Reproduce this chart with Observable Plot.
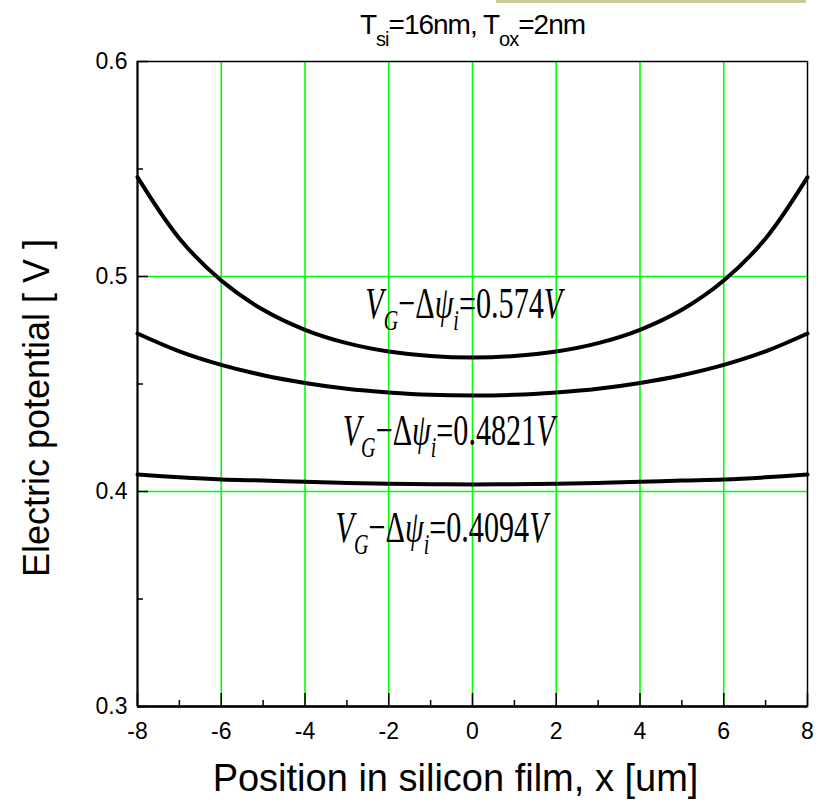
<!DOCTYPE html>
<html><head><meta charset="utf-8">
<script src="https://cdn.jsdelivr.net/npm/d3@7"></script>
<script src="https://cdn.jsdelivr.net/npm/@observablehq/plot@0.6"></script>
<style>
body{margin:0;background:#fff;}
#wrap{position:relative;width:825px;height:802px;}
#bar{position:absolute;left:496px;top:0;width:310px;height:3px;background:#cccc99;z-index:2;}
</style></head><body>
<div id="wrap"><div id="bar"></div><div id="chart"></div></div>
<script>
// ---- data ----
const positions = [-8,-7,-6,-5,-4,-3,-2,-1,0,1,2,3,4,5,6,7,8];
const curveTop    = [0.5462,0.5177,0.4981,0.4845,0.4752,0.4690,0.4651,0.4630,0.4623,0.4630,0.4651,0.4690,0.4752,0.4845,0.4981,0.5177,0.5462];
const curveMiddle = [0.4735,0.4652,0.4589,0.4541,0.4505,0.4478,0.4461,0.4450,0.4447,0.4450,0.4461,0.4478,0.4505,0.4541,0.4589,0.4652,0.4735];
const curveBottom = [0.4079,0.4066,0.4056,0.4051,0.4045,0.4040,0.4036,0.4034,0.4033,0.4034,0.4036,0.4040,0.4045,0.4051,0.4056,0.4066,0.4079];
const seriesNames = ["0.574", "0.4821", "0.4094"];
const labelX = [-2.56, -3.1, -3.27];
const labelY = [0.4805, 0.4214, 0.3763];
const xTickLabels = [-8,-6,-4,-2,0,2,4,6,8];
const xMinorTicks = [-7,-5,-3,-1,1,3,5,7];
const yTickLabels = [0.3,0.4,0.5,0.6];
const yMinorTicks = [0.35,0.45,0.55];
const xGrid = [-6,-4,-2,0,2,4,6];
const yGrid = [0.4,0.5];
const titleText = "Tsi=16nm, Tox=2nm";
const xLabel = "Position in silicon film, x [um]";
const yLabel = "Electric potential [ V ]";

const rows = [];
[curveTop, curveMiddle, curveBottom].forEach((arr, k) => {
  arr.forEach((v, i) => rows.push({x: positions[i], v, s: seriesNames[k]}));
});
const labels = seriesNames.map((n, i) => ({x: labelX[i], y: labelY[i], t: `VG−Δψi=${n}V`}));

const frameW = 825 - 137 - 18, frameH = 802 - 61 - 96;

const plot = Plot.plot({
  width: 825, height: 802,
  marginLeft: 137, marginRight: 18, marginTop: 61, marginBottom: 96,
  x: {domain: [-8, 8]},
  y: {domain: [0.3, 0.6]},
  style: {fontFamily: "'Liberation Sans', Arial, sans-serif", background: "white", color: "black", overflow: "visible"},
  marks: [
    Plot.ruleX(xGrid, {stroke: "#00ff00", strokeWidth: 1.6}),
    Plot.ruleY(yGrid, {stroke: "#00ff00", strokeWidth: 1.6}),
    Plot.frame({stroke: "black", strokeWidth: 1.5}),
    Plot.ruleY([0.3], {stroke: "black", strokeWidth: 2.5}),
    Plot.ruleX([-8], {stroke: "black", strokeWidth: 2}),
    Plot.tickX(xTickLabels, {x: d => d, insetTop: frameH - 13, stroke: "black", strokeWidth: 1.5}),
    Plot.tickX(xMinorTicks, {x: d => d, insetTop: frameH - 6, stroke: "black", strokeWidth: 1.5}),
    Plot.tickY(yTickLabels, {y: d => d, insetRight: frameW - 11, stroke: "black", strokeWidth: 1.5}),
    Plot.tickY(yMinorTicks, {y: d => d, insetRight: frameW - 6, stroke: "black", strokeWidth: 1.5}),
    Plot.axisX(xTickLabels, {tickSize: 0, tickPadding: 16, fontSize: 23, tickFormat: d => String(d), label: null}),
    Plot.axisY(yTickLabels, {tickSize: 0, tickPadding: 10, fontSize: 23, tickFormat: d => String(d), label: null}),
    Plot.line(rows, {x: "x", y: "v", z: "s", stroke: "black", strokeWidth: 4, curve: "catmull-rom"}),
    Plot.text(labels, {x: "x", y: "y", text: "t", textAnchor: "start", lineAnchor: "bottom", fontSize: 45, fontFamily: "'Liberation Serif', 'Times New Roman', serif", fill: "black"}),
    Plot.text([titleText], {text: d => d, frameAnchor: "top", dy: -28, lineAnchor: "bottom", textAnchor: "middle", fontSize: 28, fill: "black"}),
    Plot.text([xLabel], {text: d => d, frameAnchor: "bottom", dy: 72, dx: -17, lineAnchor: "middle", textAnchor: "middle", fontSize: 38, fill: "black"}),
    Plot.text([yLabel], {text: d => d, frameAnchor: "left", rotate: -90, dx: -100, dy: 24, lineAnchor: "middle", textAnchor: "middle", fontSize: 36, fill: "black"})
  ]
});
document.getElementById("chart").appendChild(plot);

const SVGNS = "http://www.w3.org/2000/svg";
function rebuild(el, parts, subSize, subDy) {
  el.textContent = "";
  let shifted = false;
  for (const p of parts) {
    const ts = document.createElementNS(SVGNS, "tspan");
    ts.textContent = p.t;
    if (p.italic) ts.setAttribute("font-style", "italic");
    if (p.sub && !shifted) { ts.setAttribute("dy", subDy); shifted = true; }
    else if (!p.sub && shifted) { ts.setAttribute("dy", -subDy); shifted = false; }
    if (p.sub) ts.setAttribute("font-size", subSize);
    el.appendChild(ts);
  }
}
d3.select(plot).selectAll("text").each(function () {
  const t = this.textContent;
  if (t.startsWith("VG−Δψi=")) {
    const val = t.slice(7, -1);
    rebuild(this, [
      {t: "V", italic: true}, {t: "G", italic: true, sub: true},
      {t: "−Δ"}, {t: "ψ", italic: true}, {t: "i", italic: true, sub: true},
      {t: "=" + val}, {t: "V", italic: true}
    ], 30, 12);
    const tr = this.getAttribute("transform");
    if (tr) this.setAttribute("transform", tr + " scale(0.67,1)");
  } else if (t === titleText) {
    rebuild(this, [
      {t: "T"}, {t: "si", sub: true}, {t: "=16nm, T"}, {t: "ox", sub: true}, {t: "=2nm"}
    ], 20, 12);
    this.setAttribute("letter-spacing", "-1");
  }
});
</script>
</body></html>
